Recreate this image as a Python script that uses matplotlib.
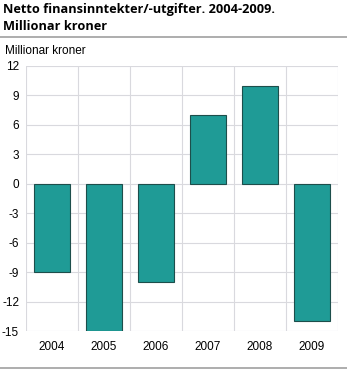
import matplotlib
matplotlib.use("Agg")
import matplotlib.pyplot as plt
import numpy as np

years = ["2004", "2005", "2006", "2007", "2008", "2009"]
values = [-9, -15, -10, 7, 10, -14]
yticks = [-15, -12, -9, -6, -3, 0, 3, 6, 9, 12]

plt.rcParams['font.family'] = ['Liberation Sans', 'DejaVu Sans']
plt.rcParams['axes.unicode_minus'] = False

fig = plt.figure(figsize=(3.47, 3.71), dpi=100)
ax = fig.add_axes([26/347, 40/371, 312/347, 265/371])

x = np.arange(len(years))
ax.bar(x, values, width=0.69, color='#1f9b96', edgecolor='#1d4e4b', linewidth=0.8, zorder=3)

ax.set_xlim(-0.5, len(years) - 0.5)
ax.set_ylim(-15, 12)
ax.set_yticks(yticks)
ax.set_xticks(x)
ax.set_xticklabels(years)
ax.set_xticks(np.arange(-0.5, len(years)), minor=True)
ax.grid(True, axis='y', color='#d9d9de', linewidth=0.8, zorder=0)
ax.grid(True, axis='x', which='minor', color='#d9d9de', linewidth=0.8, zorder=0)
ax.tick_params(which='both', length=0, labelsize=8.5, colors='#000000')
ax.tick_params(axis='x', pad=7)
ax.tick_params(axis='y', pad=5)
for s in ax.spines.values():
    s.set_visible(False)

fig.text(3/347, 1 - 10/371, "Netto finansinntekter/-utgifter. 2004-2009.", fontsize=9.2,
         fontweight='bold', family=['Open Sans', 'DejaVu Sans'], va='center')
fig.text(3/347, 1 - 26/371, "Millionar kroner", fontsize=9.2,
         fontweight='bold', family=['Open Sans', 'DejaVu Sans'], va='center')
fig.add_artist(plt.Line2D([0, 1], [1 - 37/371, 1 - 37/371], color='#a0a0a0', linewidth=1.2))
fig.add_artist(plt.Line2D([0, 1], [1 - 368/371, 1 - 368/371], color='#a0a0a0', linewidth=1.2))
fig.text(5/347, 1 - 51/371, "Millionar kroner", fontsize=8.5, va='center')

fig.savefig("out.png", dpi=100)
